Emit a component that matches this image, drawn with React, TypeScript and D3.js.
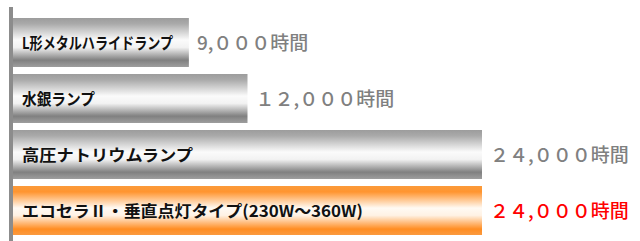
import React, { useEffect, useRef } from 'react'
import * as d3 from 'd3'

const lamps = ['L形メタルハライドランプ', '水銀ランプ', '高圧ナトリウムランプ', 'エコセラⅡ・垂直点灯タイプ(230W～360W)']
const hours = [9000, 12000, 24000, 24000]
const hourLabels = ['9,０００時間', '１２,０００時間', '２４,０００時間', '２４,０００時間']
const highlight = [false, false, false, true]
// rendered width of each bar label in the original
const labelWidths = [151, 73, 171, 341]

const W = 640
const H = 241

export default function App() {
  const ref = useRef<SVGSVGElement>(null)

  useEffect(() => {
    const svg = d3.select(ref.current)
    svg.selectAll('*').remove()

    const x = d3.scaleLinear().domain([0, 24000]).range([13, 482])
    const y = d3.scaleBand().domain(lamps).range([18, 235]).paddingInner(0.125).paddingOuter(0)

    const defs = svg.append('defs')
    const gray = defs.append('linearGradient').attr('id', 'gray').attr('x1', 0).attr('x2', 0).attr('y1', 0).attr('y2', 1)
    ;[[0, '#9c9c9c'], [0.12, '#aaaaaa'], [0.45, '#fbfbfb'], [0.6, '#f2f2f2'], [0.86, '#808080'], [1, '#9e9e9e']]
      .forEach(([o, c]) => gray.append('stop').attr('offset', o).attr('stop-color', c))
    const orange = defs.append('linearGradient').attr('id', 'orange').attr('x1', 0).attr('x2', 0).attr('y1', 0).attr('y2', 1)
    ;[[0, '#fb9a3a'], [0.12, '#ff9530'], [0.45, '#fffaf4'], [0.6, '#fff2e4'], [0.88, '#ff8d22'], [1, '#fa9a40']]
      .forEach(([o, c]) => orange.append('stop').attr('offset', o).attr('stop-color', c))

    const rows = svg.selectAll('g.row')
      .data(lamps)
      .enter()
      .append('g')
        .attr('class', 'row')

    rows.append('rect')
      .attr('x', x(0))
      .attr('y', d => y(d)!)
      .attr('width', (d, i) => x(hours[i]) - x(0))
      .attr('height', y.bandwidth())
      .attr('fill', (d, i) => highlight[i] ? 'url(#orange)' : 'url(#gray)')

    rows.append('text')
      .attr('x', 22)
      .attr('y', d => y(d)! + y.bandwidth() / 2 + 6)
      .attr('textLength', (d, i) => labelWidths[i])
      .attr('lengthAdjust', 'spacingAndGlyphs')
      .attr('font-size', 16)
      .attr('font-weight', 'bold')
      .attr('fill', '#111')
      .text(d => d)

    rows.append('text')
      .attr('x', (d, i) => x(hours[i]) + 8)
      .attr('y', d => y(d)! + y.bandwidth() / 2 + 7)
      .attr('font-size', 19)
      .attr('font-weight', 500)
      .attr('fill', (d, i) => highlight[i] ? '#ff0000' : '#808080')
      .text((d, i) => hourLabels[i])

    svg.append('rect')
      .attr('x', 9)
      .attr('y', 7)
      .attr('width', 4)
      .attr('height', H - 7)
      .attr('fill', '#8c8c8c')
  }, [])

  return (
    <svg ref={ref} width={W} height={H}
      style={{ position: 'absolute', left: 0, top: 0, background: '#fff', fontFamily: '"Noto Sans CJK JP", sans-serif' }} />
  )
}
